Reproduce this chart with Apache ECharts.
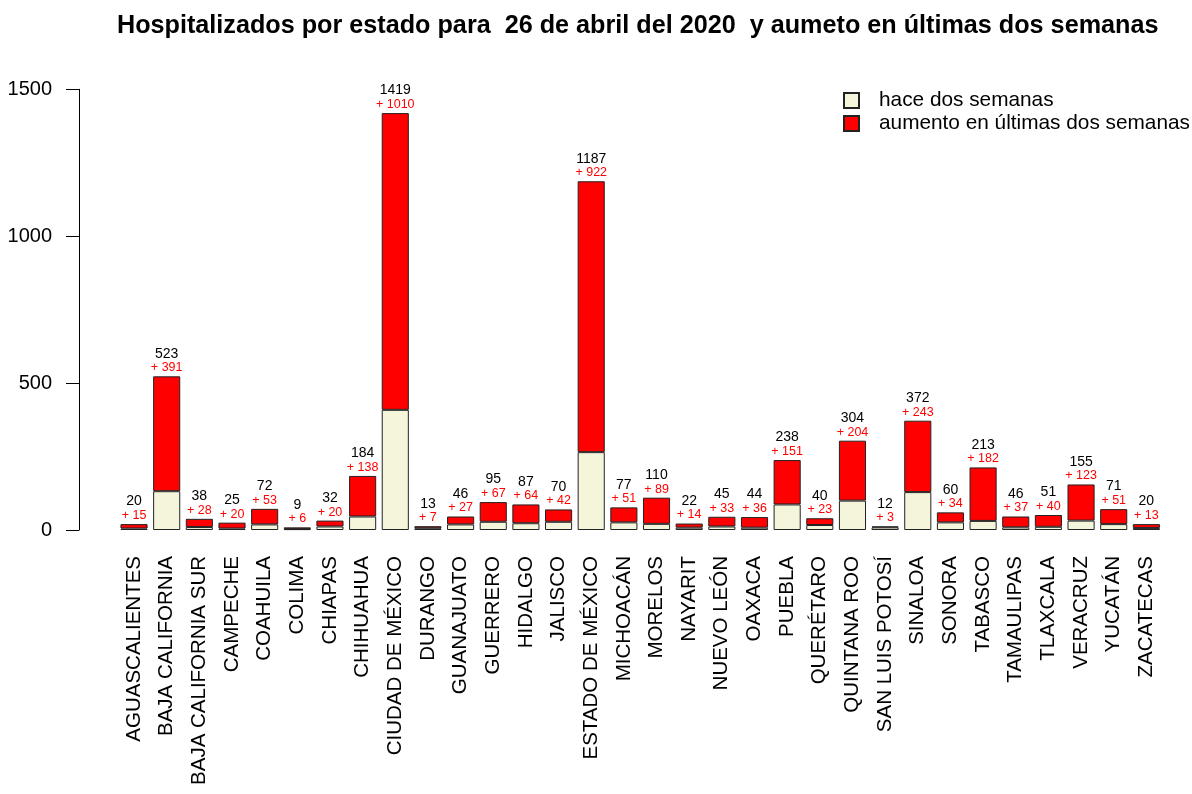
<!DOCTYPE html>
<html>
<head>
<meta charset="utf-8">
<title>Hospitalizados por estado</title>
<script src="https://cdn.jsdelivr.net/npm/echarts@6/dist/echarts.min.js"></script>
<style>
  html, body { margin: 0; padding: 0; background: #fff; }
  #chart { width: 1192px; height: 794px; }
</style>
</head>
<body>
<div id="chart"></div>
<script>
// estados
const estados = [
  'AGUASCALIENTES', 'BAJA CALIFORNIA', 'BAJA CALIFORNIA SUR', 'CAMPECHE', 'COAHUILA',
  'COLIMA', 'CHIAPAS', 'CHIHUAHUA', 'CIUDAD DE MÉXICO', 'DURANGO', 'GUANAJUATO',
  'GUERRERO', 'HIDALGO', 'JALISCO', 'ESTADO DE MÉXICO', 'MICHOACÁN', 'MORELOS',
  'NAYARIT', 'NUEVO LEÓN', 'OAXACA', 'PUEBLA', 'QUERÉTARO', 'QUINTANA ROO',
  'SAN LUIS POTOSÍ', 'SINALOA', 'SONORA', 'TABASCO', 'TAMAULIPAS', 'TLAXCALA',
  'VERACRUZ', 'YUCATÁN', 'ZACATECAS'
];

// hospitalizados hace dos semanas
const haceDos = [
  5, 132, 10, 5, 19, 3, 12, 46, 409, 6, 19,
  28, 23, 28, 265, 26, 21, 8, 12, 8, 87,
  17, 100, 9, 129, 26, 31, 9, 11, 32, 20, 7
];

// aumento en las ultimas dos semanas
const aumento = [
  15, 391, 28, 20, 53, 6, 20, 138, 1010, 7, 27,
  67, 64, 42, 922, 51, 89, 14, 33, 36, 151,
  23, 204, 3, 243, 34, 182, 37, 40, 123, 51, 13
];

const yTicks = [0, 500, 1000, 1500];

const chart = echarts.init(document.getElementById('chart'));
const fuente = 'Liberation Sans, Arial, sans-serif';

const option = {
  animation: false,
  textStyle: { fontFamily: fuente },
  title: {
    text: 'Hospitalizados por estado para  26 de abril del 2020  y aumeto en últimas dos semanas',
    left: 112,
    top: 9,
    textStyle: { fontSize: 25.2, fontWeight: 'bold', color: '#000', fontFamily: fuente }
  },
  legend: {
    orient: 'vertical',
    left: 838,
    top: 84,
    itemWidth: 15,
    itemHeight: 15,
    itemGap: 0,
    icon: 'rect',
    textStyle: { fontSize: 20.8, lineHeight: 23, color: '#000', fontFamily: fuente, padding: [0, 0, 0, 15] },
    data: ['hace dos semanas', 'aumento en últimas dos semanas']
  },
  grid: {
    left: 117.7,
    top: 89.3,
    width: 1045,
    height: 440.7
  },
  xAxis: {
    type: 'category',
    data: estados,
    axisLine: { show: false },
    axisTick: { show: false },
    axisLabel: {
      rotate: 90,
      interval: 0,
      fontSize: 20.5,
      color: '#000',
      margin: 26,
      fontFamily: fuente
    }
  },
  yAxis: {
    type: 'value',
    min: yTicks[0],
    max: yTicks[yTicks.length - 1],
    interval: 500,
    offset: 38.7,
    splitLine: { show: false },
    axisLine: { show: true, lineStyle: { color: '#000', width: 1 } },
    axisTick: { show: true, length: 13, lineStyle: { color: '#000' } },
    axisLabel: { fontSize: 20, color: '#000', margin: 27, fontFamily: fuente, formatter: v => String(v) }
  },
  series: [
    {
      name: 'hace dos semanas',
      type: 'bar',
      stack: 'total',
      barWidth: '83%',
      data: haceDos,
      itemStyle: { color: '#F5F5DC', borderColor: '#222', borderWidth: 1 }
    },
    {
      name: 'aumento en últimas dos semanas',
      type: 'bar',
      stack: 'total',
      barWidth: '83%',
      data: aumento,
      itemStyle: { color: '#FF0000', borderColor: '#222', borderWidth: 1 },
      label: {
        show: true,
        position: 'top',
        distance: 2,
        formatter: p => '{t|' + (haceDos[p.dataIndex] + aumento[p.dataIndex]) + '}\n{a|+ ' + p.value + '}',
        rich: {
          t: { fontSize: 14, color: '#000', lineHeight: 15, fontFamily: fuente },
          a: { fontSize: 12.5, color: '#FF0000', lineHeight: 13, fontFamily: fuente }
        }
      }
    }
  ]
};

chart.setOption(option);
</script>
</body>
</html>
